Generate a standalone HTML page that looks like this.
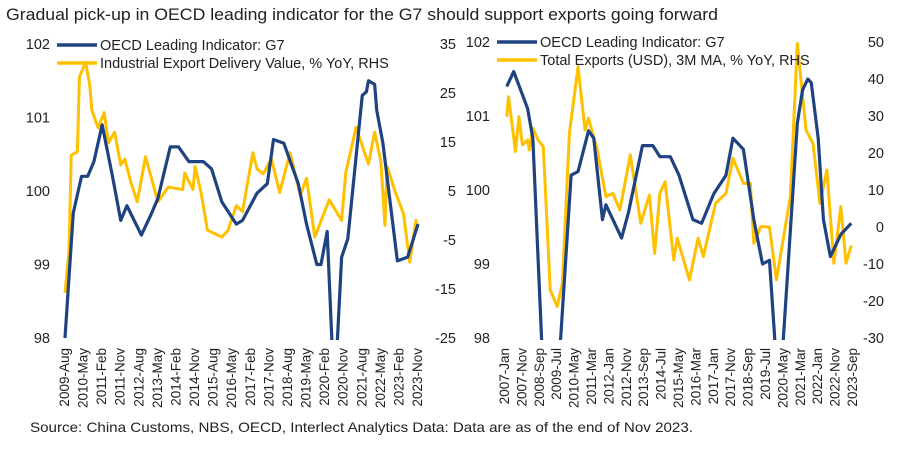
<!DOCTYPE html>
<html><head><meta charset="utf-8">
<style>
html,body{margin:0;padding:0;background:#fff;}
body{width:900px;height:450px;overflow:hidden;font-family:"Liberation Sans",sans-serif;}
svg text{font-family:"Liberation Sans",sans-serif;fill:#222;}
</style></head>
<body>
<svg id="c" width="900" height="450">
<text x="6" y="20" font-size="16.5" textLength="712" lengthAdjust="spacingAndGlyphs">Gradual pick-up in OECD leading indicator for the G7 should support exports going forward</text>
<text x="30" y="432" font-size="14" textLength="663" lengthAdjust="spacingAndGlyphs">Source: China Customs, NBS, OECD, Interlect Analytics   Data: Data are as of the end of Nov 2023.</text>
</svg>
<script>
// ---- Left chart data (month index from 2009-Aug) ----
const leftTicks = ["2009-Aug","2010-May","2011-Feb","2011-Nov","2012-Aug","2013-May","2014-Feb","2014-Nov","2015-Aug","2016-May","2017-Feb","2017-Nov","2018-Aug","2019-May","2020-Feb","2020-Nov","2021-Aug","2022-May","2023-Feb","2023-Nov"];
const leftOecdMonths = [0,4,8,11,14,18,23,27,30,37,42,45,51,55,60,67,71,76,83,86,93,98,101,106,113,117,122,124,127,130,132,134,137,144,146,147,150,151,154,161,166,171];
const leftOecdValues = [98.0,99.7,100.2,100.2,100.4,100.9,100.2,99.6,99.8,99.4,99.7,99.9,100.6,100.6,100.4,100.4,100.3,99.85,99.55,99.6,99.97,100.1,100.7,100.65,100.1,99.55,99.0,99.0,99.45,97.5,98.0,99.1,99.35,101.3,101.35,101.5,101.45,101.1,100.65,99.05,99.1,99.55];
const leftExpMonths = [0,2,3,6,7,10,12,13,16,19,21,24,27,29,32,35,39,45,50,57,58,62,63,66,69,76,79,83,86,91,93,96,100,104,109,114,117,121,128,134,136,141,147,150,153,155,156,160,164,167,170,171];
const leftExpValues = [-15.8,-7,12.3,13,28.3,31.3,26.6,21.5,17.9,21,14.8,17,10.3,11.5,6.6,2.8,12,2.8,5.8,5.3,8.7,5.3,10,4.5,-3,-4.4,-3,2,0.8,12.8,9.5,8.5,11.6,4.7,12.8,4.2,7.6,-4.4,3.2,-1,8.7,18,10.5,17,11,-2,10,4.8,0.3,-9.5,-1,-2.5];
const leftLhsTicks = [102,101,100,99,98];
const leftRhsTicks = [35,25,15,5,-5,-15,-25];
// ---- Right chart data (month index from 2007-Jan) ----
const rightTicks = ["2007-Jan","2007-Nov","2008-Sep","2009-Jul","2010-May","2011-Mar","2012-Jan","2012-Nov","2013-Sep","2014-Jul","2015-May","2016-Mar","2017-Jan","2017-Nov","2018-Sep","2019-Jul","2020-May","2021-Mar","2022-Jan","2022-Nov","2023-Sep"];
const rightOecdMonths = [1,5,9,13,16,21,26,32,38,42,48,51,56,58,62,67,71,79,85,89,95,100,108,113,120,127,131,137,143,148,152,155,157,160,168,171,174,176,180,183,187,193,199];
const rightOecdValues = [101.4,101.6,101.35,101.1,100.7,98.0,97.0,98.0,100.2,100.25,100.8,100.7,99.6,99.8,99.6,99.35,99.7,100.6,100.6,100.45,100.45,100.2,99.6,99.55,99.95,100.2,100.7,100.55,99.6,99.0,99.05,98.0,97.0,98.0,100.9,101.35,101.5,101.45,100.7,99.6,99.1,99.4,99.55];
const rightExpMonths = [1,2,4,6,8,10,13,14,16,19,22,26,30,33,37,42,46,48,53,58,62,66,72,78,83,86,89,92,97,99,106,111,114,121,127,131,137,141,143,147,152,156,164,168,173,177,181,185,189,193,196,199];
const rightExpValues = [29.8,35.2,28,20.4,29.8,22.2,23.5,20.8,26.7,23.5,21.7,-17,-21.5,-15.2,25.3,43.3,26.2,29.4,20.8,8.2,9.1,4.6,19.5,1,8.6,-7.1,9.1,12.2,-8.9,-3,-14.3,-3,-8,6.4,9.1,18.6,11.8,11.8,-4.4,0.1,0,-14.3,8.2,49.6,26.2,22.6,6.4,15.4,-9.8,5.5,-9.8,-5];
const rightLhsTicks = [102,101,100,99,98];
const rightRhsTicks = [50,40,30,20,10,0,-10,-20,-30];

const NS = "http://www.w3.org/2000/svg";
const svg = document.getElementById('c');
function mk(tag, attrs, parent){const e=document.createElementNS(NS,tag);for(const k in attrs)e.setAttribute(k,attrs[k]);(parent||svg).appendChild(e);return e;}

function drawChart(cfg){
  const g = mk('g',{});
  
  
  const x = m => cfg.x0 + (m/cfg.nMonths)*(cfg.x1-cfg.x0);
  const yL = v => cfg.yTop + (cfg.lMax - v)/(cfg.lMax-cfg.lMin)*(cfg.yBot-cfg.yTop);
  const yR = v => cfg.yTop + (cfg.rMax - v)/(cfg.rMax-cfg.rMin)*(cfg.yBot-cfg.yTop);
  const clipId = cfg.name+'-clip';
  const defs = mk('defs',{},g);
  const cp = mk('clipPath',{id:clipId},defs);
  mk('rect',{x:cfg.x0-5,y:cfg.yTop-2,width:cfg.x1-cfg.x0+10,height:cfg.yBot-cfg.yTop+4},cp);
  cfg.lhsTicks.forEach(v=>{
    const t = mk('text',{x:cfg.lhsX,y:yL(v)+5,'font-size':14.5,'text-anchor':'end'},g);
    t.textContent = v;
    
    
  });
  cfg.rhsTicks.forEach(v=>{
    const t = mk('text',{x:cfg.rhsX,y:yR(v)+5,'font-size':14.5,'text-anchor':'end'},g);
    t.textContent = v;
    
    
  });
  const step = cfg.nMonths/(cfg.ticks.length-1);
  cfg.ticks.forEach((lab,i)=>{
    const xx = x(i*step)+4;
    const t = mk('text',{x:0,y:0,'font-size':13.5,'text-anchor':'end',transform:`translate(${xx},${cfg.yBot+10}) rotate(-90)`},g);
    t.textContent = lab;
    
    
  });
  const lineG = mk('g',{'clip-path':`url(#${clipId})`},g);
  const pe = mk('polyline',{points:cfg.expM.map((m,i)=>x(m)+','+yR(cfg.expV[i])).join(' '),fill:'none',stroke:'#FFC000','stroke-width':3,'stroke-linejoin':'round'},lineG);
  
  
  const po = mk('polyline',{points:cfg.oecdM.map((m,i)=>x(m)+','+yL(cfg.oecdV[i])).join(' '),fill:'none',stroke:'#1F4380','stroke-width':3.2,'stroke-linejoin':'round'},lineG);
  
  
  // legend
  const lg = mk('g',{},g);
  
  
  mk('line',{x1:cfg.legX,y1:cfg.legY,x2:cfg.legX+40,y2:cfg.legY,stroke:'#1F4380','stroke-width':3.5},lg);
  mk('line',{x1:cfg.legX,y1:cfg.legY+18,x2:cfg.legX+40,y2:cfg.legY+18,stroke:'#FFC000','stroke-width':3.5},lg);
  const t1 = mk('text',{x:cfg.legX+43,y:cfg.legY+5,'font-size':14.5},lg); t1.textContent = 'OECD Leading Indicator: G7';
  
  
  const t2 = mk('text',{x:cfg.legX+43,y:cfg.legY+23,'font-size':14.5},lg); t2.textContent = cfg.expLabel;
  
  
}

drawChart({name:'left-chart',x0:65,x1:418,nMonths:171,yTop:44,yBot:338,lMax:102,lMin:98,rMax:35,rMin:-25,
  lhsX:50,rhsX:456,ticks:leftTicks,lhsTicks:leftLhsTicks,rhsTicks:leftRhsTicks,
  oecdM:leftOecdMonths,oecdV:leftOecdValues,expM:leftExpMonths,expV:leftExpValues,
  legX:57,legY:45,expLabel:'Industrial Export Delivery Value, % YoY, RHS'});
drawChart({name:'right-chart',x0:505,x1:853,nMonths:200,yTop:42,yBot:338,lMax:102,lMin:98,rMax:50,rMin:-30,
  lhsX:490,rhsX:884,ticks:rightTicks,lhsTicks:rightLhsTicks,rhsTicks:rightRhsTicks,
  oecdM:rightOecdMonths,oecdV:rightOecdValues,expM:rightExpMonths,expV:rightExpValues,
  legX:497,legY:42,expLabel:'Total Exports (USD), 3M MA, % YoY, RHS'});
</script>
</body></html>
